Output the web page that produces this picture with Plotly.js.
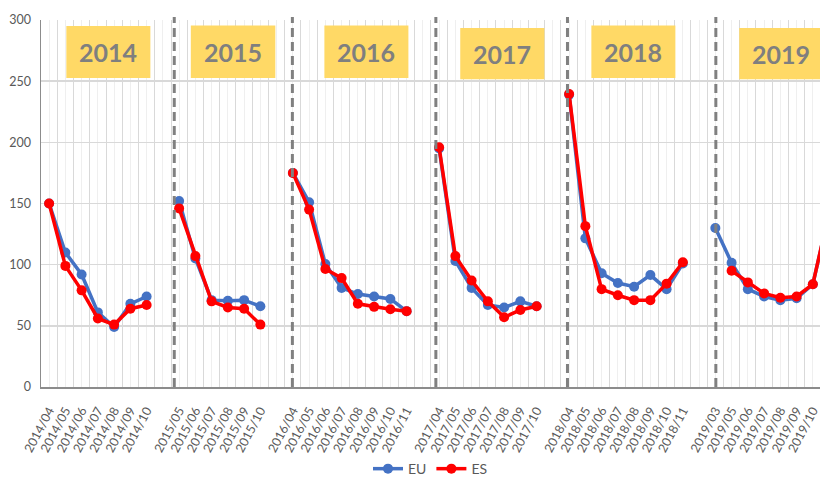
<!DOCTYPE html>
<html>
<head>
<meta charset="utf-8">
<script src="https://cdn.plot.ly/plotly-3.0.1.min.js"></script>
<style>html,body{margin:0;padding:0;background:#fff;}#chart{width:820px;height:479px;}</style>
</head>
<body>
<div id="chart"></div>
<script>
// Category labels ('' = empty spacer slot between years)
const categories = [
  '2014/04','2014/05','2014/06','2014/07','2014/08','2014/09','2014/10','',
  '2015/05','2015/06','2015/07','2015/08','2015/09','2015/10','',
  '2016/04','2016/05','2016/06','2016/07','2016/08','2016/09','2016/10','2016/11','',
  '2017/04','2017/05','2017/06','2017/07','2017/08','2017/09','2017/10','',
  '2018/04','2018/05','2018/06','2018/07','2018/08','2018/09','2018/10','2018/11','',
  '2019/03','2019/05','2019/06','2019/07','2019/08','2019/09','2019/10','2019/11'
];
const euValues = [
  150, 110, 92, 61, 49, 68, 74, null,
  152, 105, 71, 70.5, 71, 66, null,
  175, 151, 100.5, 81, 76, 74, 72, 62, null,
  195, 103, 81, 67, 65, 70, 66, null,
  239, 121.5, 93, 85, 82, 91.5, 80, 101, null,
  130, 101.5, 80, 74, 71, 72.5, 84, 142
];
const esValues = [
  150, 99, 79, 56, 51, 64, 67, null,
  146, 107, 70, 65, 64, 51, null,
  175, 145, 96.5, 89, 68, 65.5, 63.5, 62, null,
  196, 107, 87, 70, 57, 63, 66, null,
  239.5, 131.5, 80, 75, 71, 71, 84.5, 102, null,
  null, 95, 85.5, 76.5, 73, 74, 84, 143
];
const yearLabels = ['2014','2015','2016','2017','2018','2019'];
const seriesNames = ['EU','ES'];

const xIdx = categories.map((c, i) => i);

const traces = [
  {x: xIdx, y: euValues, name: seriesNames[0], type: 'scatter', mode: 'lines+markers',
   line: {color: '#4472C4', width: 3.5}, marker: {color: '#4472C4', size: 10}, connectgaps: false},
  {x: xIdx, y: esValues, name: seriesNames[1], type: 'scatter', mode: 'lines+markers',
   line: {color: '#FF0000', width: 3.5}, marker: {color: '#FF0000', size: 10}, connectgaps: false}
];

// decorative separators and year boxes (positions in category-index units)
const sepPos = [7.7, 14.97, 23.8, 31.9, 41.03];
const boxPos = [[1.06, 6.23, 252.5, 295], [8.72, 13.92, 252.5, 295.5], [16.94, 22.11, 252.5, 295.5],
                [25.3, 30.48, 251.5, 293.5], [33.37, 38.54, 252.5, 295.5], [42.47, 47.6, 251.5, 293.5]];

const shapes = [];
const annotations = [];
sepPos.forEach(p => shapes.push({type: 'line', xref: 'x', yref: 'paper', x0: p, x1: p, y0: 0, y1: 1.008,
  line: {color: '#808080', width: 3, dash: '9px,5px'}, layer: 'above'}));
boxPos.forEach((b, i) => {
  shapes.push({type: 'rect', xref: 'x', yref: 'y', x0: b[0], x1: b[1], y0: b[2], y1: b[3],
    fillcolor: '#FFD966', line: {width: 0}, layer: 'above'});
  annotations.push({xref: 'x', yref: 'y', x: (b[0] + b[1]) / 2, y: (b[2] + b[3]) / 2,
    text: '<b>' + yearLabels[i] + '</b>', showarrow: false,
    font: {family: 'Lato, sans-serif', size: 25, color: '#7f7f7f'}});
});

const layout = {
  width: 820, height: 479,
  margin: {l: 41, r: 0, t: 20, b: 92, autoexpand: false},
  paper_bgcolor: '#ffffff', plot_bgcolor: '#ffffff',
  font: {family: 'Lato, sans-serif', color: '#595959'},
  showlegend: true,
  legend: {orientation: 'h', x: 0.5, xanchor: 'center', y: -0.18, yanchor: 'top',
    font: {size: 14, color: '#595959'}, itemwidth: 30, tracegroupgap: 0},
  xaxis: {
    type: 'linear', range: [-0.5, 47.44],
    tickmode: 'array', tickvals: xIdx, ticktext: categories,
    tickangle: -62, tickfont: {size: 12.5, color: '#595959'},
    ticklabeloverflow: 'allow', ticklabelstandoff: 10,
    showgrid: true, gridcolor: '#efefef', gridwidth: 1,
    minor: {tickmode: 'linear', tick0: -0.5, dtick: 1, showgrid: true, gridcolor: '#d9d9d9', gridwidth: 1, ticks: ''},
    showline: true, linecolor: '#8c8c8c', linewidth: 1.5,
    zeroline: false, ticks: '', fixedrange: true
  },
  yaxis: {
    range: [0, 300], dtick: 50, tick0: 0,
    tickfont: {size: 12.5, color: '#595959'},
    showgrid: true, gridcolor: '#d9d9d9', gridwidth: 1.5,
    showline: true, linecolor: '#8c8c8c', linewidth: 1.5,
    zeroline: false, ticks: '', ticklabelstandoff: 6
  },
  shapes: shapes,
  annotations: annotations
};

Plotly.newPlot('chart', traces, layout, {displayModeBar: false, staticPlot: true});
</script>
</body>
</html>
